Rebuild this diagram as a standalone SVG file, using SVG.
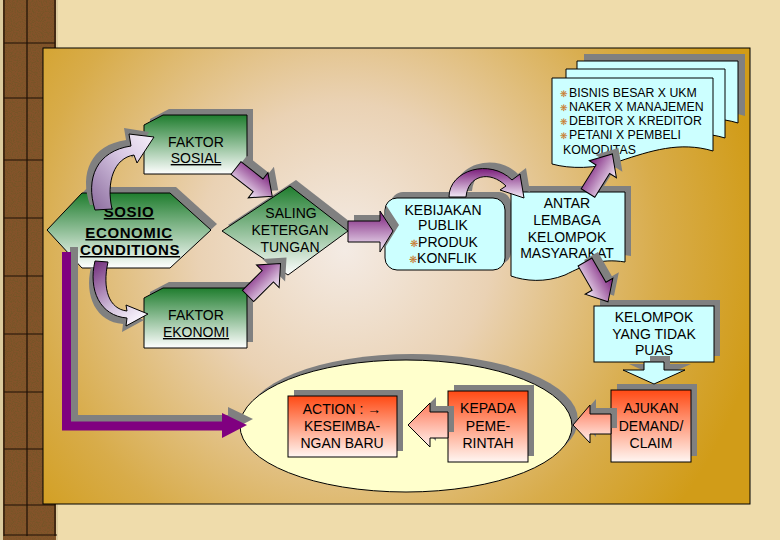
<svg xmlns="http://www.w3.org/2000/svg" width="780" height="540" viewBox="0 0 780 540">
<defs>
<style>
.t{font-family:"Liberation Sans",Arial,sans-serif;font-size:14px;fill:#000;text-anchor:middle}
.n{font-family:"Liberation Sans",Arial,sans-serif;font-size:12.3px;fill:#000}
.b{font-family:"Liberation Sans",Arial,sans-serif;font-size:15px;font-weight:bold;fill:#000;text-anchor:middle;letter-spacing:0.6px;text-decoration:underline}
.u{text-decoration:underline}
.bul{fill:#c8782a}
.sh{fill:#808080}
.cy{fill:#ccffff;stroke:#000;stroke-width:1}
.grn{fill:url(#gGreen);stroke:#000;stroke-width:1}
.red{fill:url(#gRed);stroke:#000;stroke-width:1}
.pur{fill:url(#gPur);stroke:#000;stroke-width:1}
.pk{fill:url(#gPink);stroke:#000;stroke-width:1}
.line{stroke:#1e1006;stroke-width:1.2}
</style>
<linearGradient id="gGreen" x1="0" y1="0" x2="0" y2="1">
<stop offset="0" stop-color="#1f7d2e"/><stop offset="1" stop-color="#ffffff"/>
</linearGradient>
<linearGradient id="gRed" x1="0" y1="0" x2="0" y2="1">
<stop offset="0" stop-color="#ff4a14"/><stop offset="1" stop-color="#fff6f2"/>
</linearGradient>
<linearGradient id="gPur" x1="0" y1="0" x2="0" y2="1">
<stop offset="0" stop-color="#7a1c7a"/><stop offset="1" stop-color="#f6f0fa"/>
</linearGradient>
<linearGradient id="gPurD" x1="0" y1="1" x2="1" y2="0">
<stop offset="0" stop-color="#8a6a9c"/><stop offset="0.6" stop-color="#d8c8e4"/><stop offset="1" stop-color="#f6f0fa"/>
</linearGradient>
<linearGradient id="gPurL" x1="0" y1="0" x2="0.6" y2="1">
<stop offset="0" stop-color="#6e2a78"/><stop offset="0.7" stop-color="#d6c6e0"/><stop offset="1" stop-color="#f6f0fa"/>
</linearGradient>
<linearGradient id="gPink" x1="0" y1="0" x2="0" y2="1">
<stop offset="0" stop-color="#ff7a5a"/><stop offset="1" stop-color="#fff2ee"/>
</linearGradient>
<radialGradient id="gPanel" gradientUnits="userSpaceOnUse" cx="345" cy="250" r="420">
<stop offset="0" stop-color="#f4ebe4"/><stop offset="0.35" stop-color="#ead2b4"/><stop offset="0.75" stop-color="#d8ac4a"/><stop offset="1" stop-color="#d19c18"/>
</radialGradient>
<filter id="noise" x="0" y="0" width="100%" height="100%">
<feTurbulence type="fractalNoise" baseFrequency="0.8" numOctaves="2" seed="3"/>
<feColorMatrix type="matrix" values="0 0 0 0 0.18  0 0 0 0 0.09  0 0 0 0 0.02  0 0 0 3.2 -1.3"/>
</filter>
<polygon id="ba" points="0,-8 28,-8 28,-16 46,0 28,16 28,8 0,8"/>
</defs>

<!-- background parchment -->
<rect x="0" y="0" width="780" height="540" fill="#efdcab"/>
<!-- left wooden strip -->
<g id="strip">
<rect x="0" y="0" width="58" height="540" fill="#84532a"/>
<rect x="0" y="0" width="58" height="540" filter="url(#noise)"/>
<rect x="0" y="0" width="3" height="540" fill="#dccb9e"/>
<line class="line" x1="4" y1="0" x2="4" y2="536"/>
<line class="line" x1="27" y1="0" x2="27" y2="536"/>
<line class="line" x1="55" y1="0" x2="55" y2="536"/>
<rect x="56" y="0" width="2" height="540" fill="#dccb9e"/>
<g class="line">
<line x1="4" y1="43" x2="55" y2="43"/><line x1="4" y1="98" x2="55" y2="98"/><line x1="4" y1="160" x2="55" y2="160"/><line x1="4" y1="218" x2="55" y2="218"/><line x1="4" y1="276" x2="55" y2="276"/><line x1="4" y1="334" x2="55" y2="334"/><line x1="4" y1="392" x2="55" y2="392"/><line x1="4" y1="449" x2="55" y2="449"/><line x1="4" y1="505" x2="55" y2="505"/><line x1="4" y1="535" x2="57" y2="535"/>
</g>
</g>
<!-- panel -->
<rect x="43" y="48" width="707" height="456" fill="url(#gPanel)" stroke="#000" stroke-width="1"/>

<!-- ellipse -->
<g id="ellipse">
<ellipse class="sh" cx="412" cy="420" rx="166" ry="66"/>
<ellipse cx="406" cy="426" rx="166" ry="66" fill="#ffffcc" stroke="#000" stroke-width="1"/>
</g>

<g id="faktor-sosial">
<polygon class="sh" points="169,109 253,109 253,168 150,168 150,119"/>
<polygon class="grn" points="163,115 247,115 247,174 144,174 144,125"/>
<text class="t" x="196" y="147">FAKTOR</text>
<text class="t u" x="196" y="163">SOSIAL</text>
</g>

<g id="sosio">
<polygon class="sh" points="53,224 88,187 176,187 217,224 176,262 88,262"/>
<polygon class="grn" points="47,230 82,193 170,193 211,230 170,268 82,268"/>
<text class="b" x="129" y="217">SOSIO</text>
<text class="b" x="129" y="238">ECONOMIC</text>
<text class="b" x="130" y="255">CONDITIONS</text>
</g>

<g id="faktor-ekonomi">
<polygon class="sh" points="169,282 253,282 253,342 150,342 150,292"/>
<polygon class="grn" points="163,288 247,288 247,348 144,348 144,298"/>
<text class="t" x="196" y="320">FAKTOR</text>
<text class="t u" x="196" y="337">EKONOMI</text>
</g>

<g id="saling">
<polygon class="sh" points="228,225 296,180 354,225 294,269"/>
<polygon class="grn" points="222,231 290,186 348,231 288,275"/>
<text class="t" x="291" y="218">SALING</text>
<text class="t" x="290" y="235">KETERGAN</text>
<text class="t" x="290" y="252">TUNGAN</text>
</g>

<g id="kebijakan">
<rect class="sh" x="391" y="192" width="120" height="72" rx="12"/>
<rect class="cy" x="385" y="198" width="120" height="72" rx="12"/>
<text class="t" x="443" y="215">KEBIJAKAN</text>
<text class="t" x="443" y="230">PUBLIK</text>
<text class="t" x="444" y="247"><tspan class="bul" font-size="10">❋</tspan>PRODUK</text>
<text class="t" x="443" y="263"><tspan class="bul" font-size="10">❋</tspan>KONFLIK</text>
</g>

<g id="antar">
<path class="sh" d="M517,186 H631 V256 C606,252 591,259 571,269 C551,277 531,275 517,270 Z"/>
<path class="cy" d="M511,192 H625 V262 C600,258 585,265 565,275 C545,283 525,281 511,276 Z"/>
<text class="t" x="567" y="208">ANTAR</text>
<text class="t" x="567" y="225">LEMBAGA</text>
<text class="t" x="567" y="242">KELOMPOK</text>
<text class="t" x="567" y="258">MASYARAKAT</text>
</g>

<g id="notes">
<path class="sh" d="M584,54 H745 V116 C712,106 682,116 652,126 C627,134 602,134 584,129 Z"/>
<path class="cy" d="M577,61 H738 V123 C705,113 675,123 645,133 C620,141 595,141 577,136 Z"/>
<path class="cy" d="M566,69 H725 V138 C692,128 662,138 632,148 C607,156 582,156 566,151 Z"/>
<path class="cy" d="M552,78 H713 V151 C680,141 650,151 620,161 C595,169 570,169 552,164 Z"/>
<g class="n">
<text x="560" y="97"><tspan class="bul" font-size="9">❋</tspan><tspan x="569">BISNIS BESAR X UKM</tspan></text>
<text x="560" y="111"><tspan class="bul" font-size="9">❋</tspan><tspan x="569">NAKER X MANAJEMEN</tspan></text>
<text x="560" y="125"><tspan class="bul" font-size="9">❋</tspan><tspan x="569">DEBITOR X KREDITOR</tspan></text>
<text x="560" y="139"><tspan class="bul" font-size="9">❋</tspan><tspan x="569">PETANI X PEMBELI</tspan></text>
<text x="563" y="154">KOMODITAS</text>
</g>
</g>

<g id="kelompok">
<rect class="sh" x="600" y="300" width="120" height="56"/>
<rect class="cy" x="594" y="306" width="120" height="56"/>
<text class="t" x="654" y="322">KELOMPOK</text>
<text class="t" x="654" y="339">YANG TIDAK</text>
<text class="t" x="654" y="355">PUAS</text>
</g>

<g id="ajukan">
<rect class="sh" x="617" y="384" width="80" height="72"/>
<rect class="red" x="611" y="390" width="80" height="72"/>
<text class="t" x="651" y="413">AJUKAN</text>
<text class="t" x="651" y="431">DEMAND/</text>
<text class="t" x="651" y="448">CLAIM</text>
</g>

<g id="kepada">
<rect class="sh" x="454" y="385" width="80" height="71"/>
<rect class="red" x="448" y="391" width="80" height="71"/>
<text class="t" x="488" y="413">KEPADA</text>
<text class="t" x="488" y="431">PEME-</text>
<text class="t" x="488" y="448">RINTAH</text>
</g>

<g id="action">
<rect class="sh" x="294" y="390" width="109" height="61"/>
<rect class="red" x="288" y="396" width="109" height="61"/>
<text class="t" x="342" y="414">ACTION : →</text>
<text class="t" x="342" y="431">KESEIMBA-</text>
<text class="t" x="342" y="448">NGAN BARU</text>
</g>

<g id="connectors">
<!-- purple L connector -->
<path d="M74,247 V419 H232" fill="none" stroke="#808080" stroke-width="8"/>
<polygon class="sh" points="228,407 253,419 228,432"/>
<path d="M66.5,252 V426 H224" fill="none" stroke="#800080" stroke-width="9"/>
<polygon points="222,413 247,425 222,438" fill="#800080"/>

<!-- curved SOSIO -> FAKTOR SOSIAL -->
<path class="sh" d="M90,205 C79,173 91,145 126,140 L124,128 L149,132 L132,158 L129,150 C108,153 99,177 109,204 Z"/>
<path d="M95,210 C85,178 97,151 131,146 L129,134 L154,137 L137,163 L134,155 C114,158 106,182 112,209 Z" fill="url(#gPurD)" stroke="#000" stroke-width="1"/>
<!-- curved SOSIO -> FAKTOR EKONOMI -->
<path class="sh" d="M91,267 C84,296 96,322 123,324 L122,332 L144,320 L122,311 L123,316 C104,314 98,294 104,268 Z"/>
<path d="M95,261 C88,290 100,316 127,318 L126,326 L148,314 L126,305 L127,311 C109,309 102,289 108,262 Z" fill="url(#gPurL)" stroke="#000" stroke-width="1"/>
<!-- SOSIAL -> SALING -->
<use href="#ba" class="sh" transform="translate(242,162) rotate(38)"/>
<use href="#ba" class="pur" transform="translate(236,168) rotate(38)"/>
<!-- EKONOMI -> SALING -->
<use href="#ba" class="sh" transform="translate(254,290) rotate(-45)"/>
<use href="#ba" class="pur" transform="translate(248,296) rotate(-45)"/>
<!-- SALING -> KEBIJAKAN -->
<polygon class="sh" points="354,215 386,215 386,205 399,225 386,246 386,236 354,236"/>
<polygon class="pur" points="348,221 380,221 380,211 393,231 380,252 380,242 348,242"/>
<!-- KEBIJAKAN -> ANTAR curved -->
<path class="sh" d="M455,191 C455,164 496,152 518,174 L526,168 L530,192 L506,184 L512,180 C496,164 474,169 472,191 Z"/>
<path d="M449,197 C449,170 490,158 512,180 L520,174 L524,198 L500,190 L506,186 C490,170 468,175 466,197 Z" fill="url(#gPur)" stroke="#000" stroke-width="1"/>
<!-- ANTAR -> notes -->
<use href="#ba" class="sh" transform="translate(594,187) rotate(-58)"/>
<use href="#ba" class="pur" transform="translate(588,193) rotate(-58)"/>
<!-- ANTAR -> KELOMPOK -->
<use href="#ba" class="sh" transform="translate(591,256) rotate(60)"/>
<use href="#ba" class="pur" transform="translate(585,262) rotate(60)"/>
<!-- KELOMPOK down arrow -->
<polygon class="sh" points="650,356 670,356 670,364 691,364 660,378 629,364 650,364"/>
<polygon class="cy" points="644,362 664,362 664,370 685,370 654,384 623,370 644,370"/>
<!-- AJUKAN -> ellipse -->
<polygon class="sh" points="617,408 596,408 596,399 579,419 596,437 596,428 617,428"/>
<polygon class="pk" points="611,414 590,414 590,405 573,425 590,443 590,434 611,434"/>
<!-- KEPADA -> ACTION -->
<polygon class="sh" points="454,406 436,406 436,397 414,419 436,441 436,432 454,432"/>
<polygon class="pk" points="448,412 430,412 430,403 408,425 430,447 430,438 448,438"/>
</g>
</svg>
